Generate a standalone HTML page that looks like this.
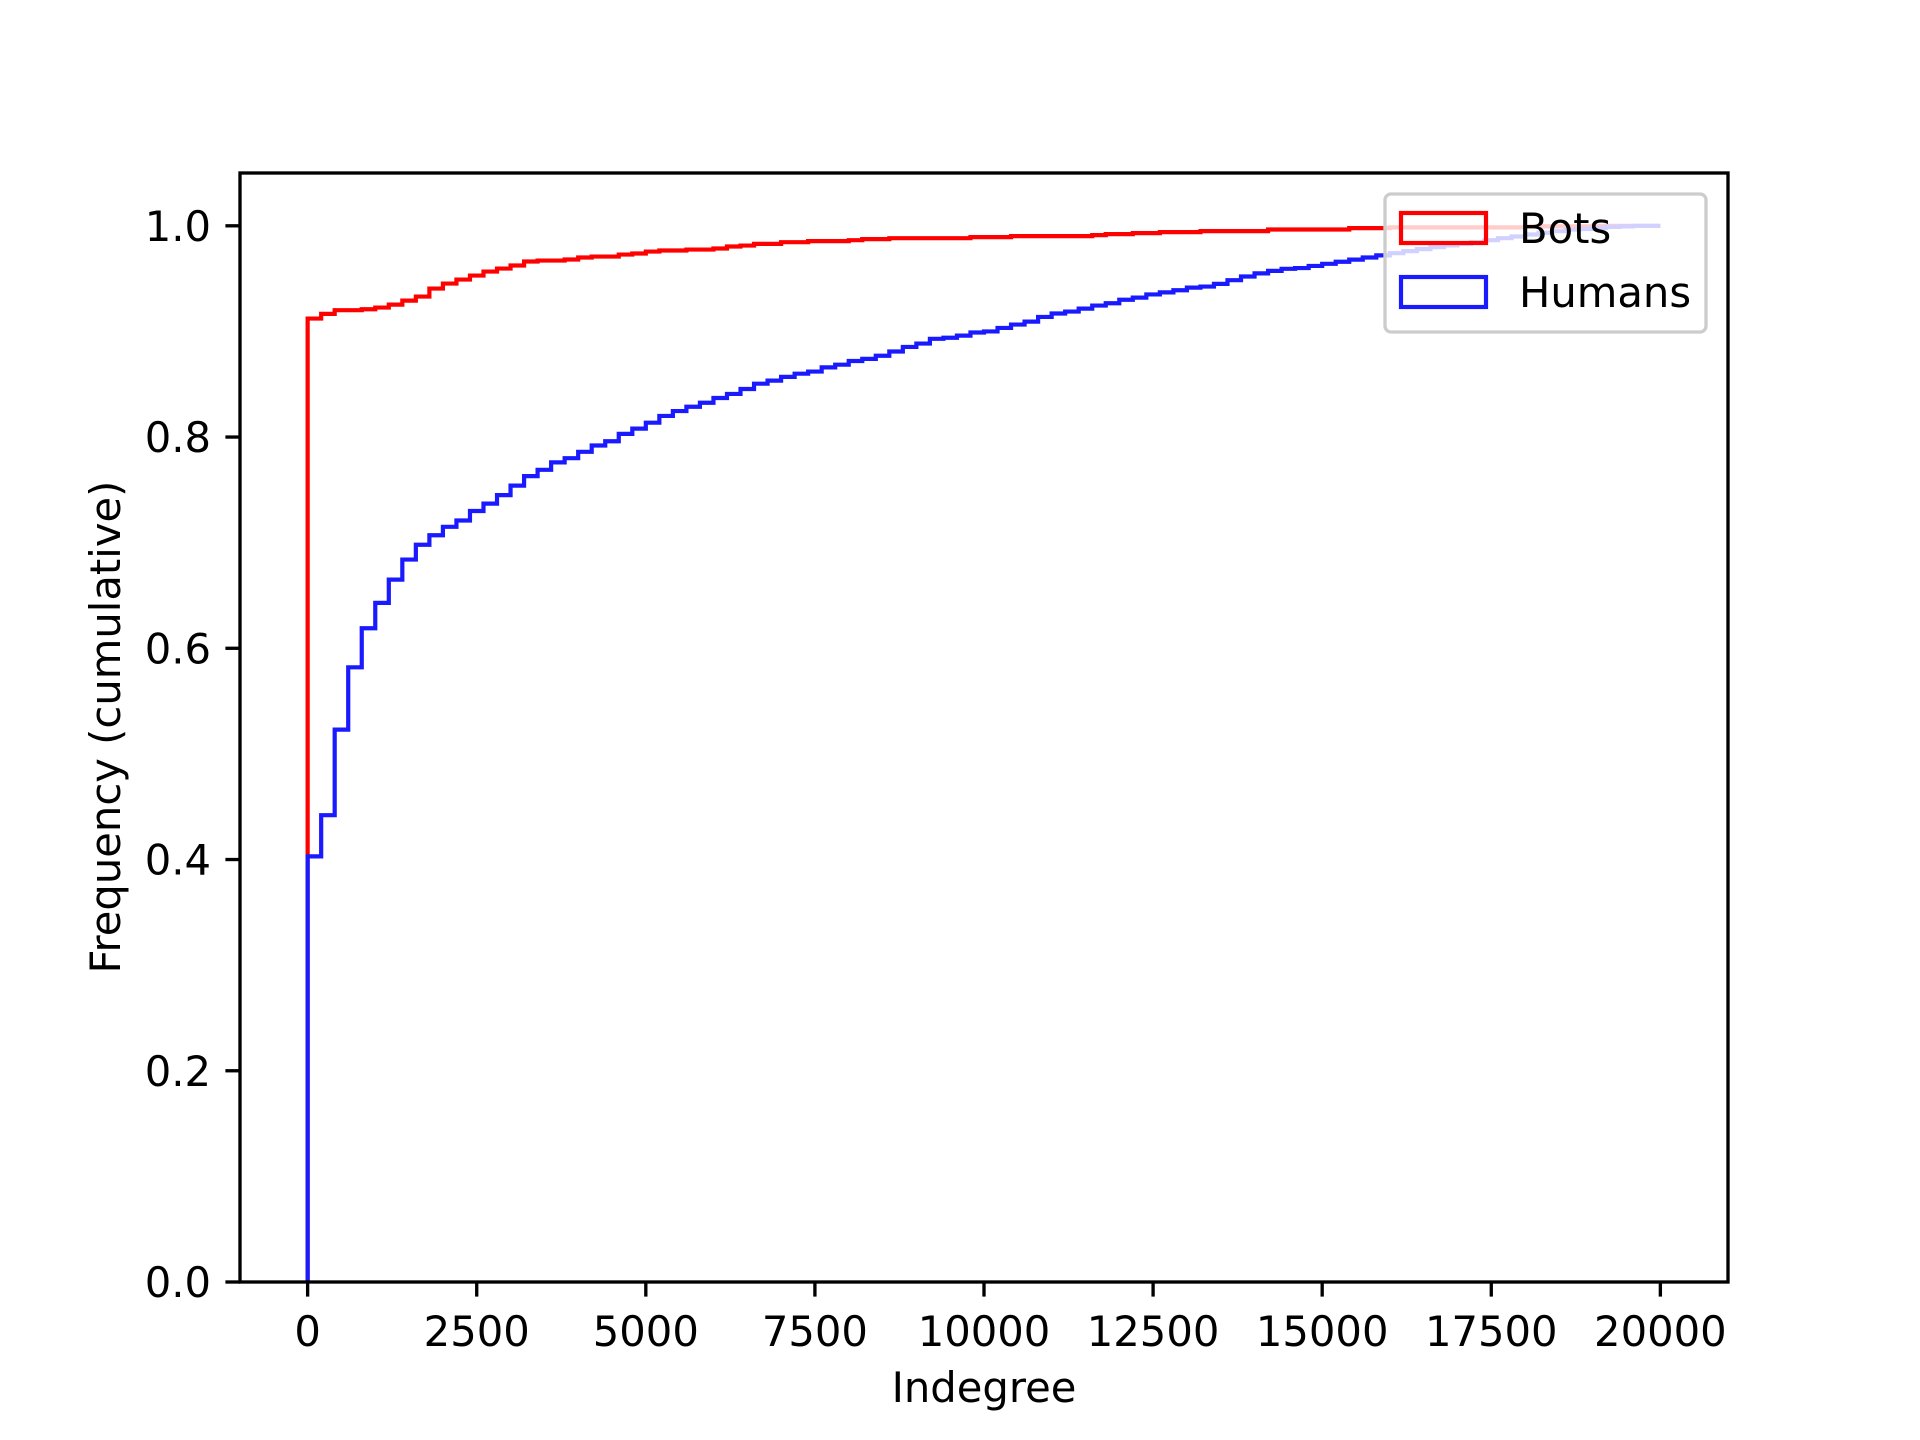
<!DOCTYPE html>
<html><head><meta charset="utf-8"><style>
html,body{margin:0;padding:0;background:#fff;}
svg{display:block;font-family:"DejaVu Sans","Liberation Sans",sans-serif;}
</style></head><body>
<svg id="chart" width="1920" height="1440" viewBox="0 0 1920 1440" xmlns="http://www.w3.org/2000/svg">
<rect x="0" y="0" width="1920" height="1440" fill="#fff"/>
<g id="plot"></g>
<g id="axes"></g>
</svg>
<script>
const binWidth = 200;
const xTicks = [0, 2500, 5000, 7500, 10000, 12500, 15000, 17500, 20000];
const yTicks = [0.0, 0.2, 0.4, 0.6, 0.8, 1.0];
const yTickLabels = ["0.0", "0.2", "0.4", "0.6", "0.8", "1.0"];
const humans = [0.403,0.442,0.523,0.582,0.619,0.643,0.665,0.684,0.698,0.707,
0.715,0.721,0.730,0.737,0.745,0.754,0.763,0.769,0.776,0.780,
0.786,0.792,0.796,0.803,0.808,0.8136,0.820,0.8246,0.8287,0.8325,
0.837,0.8408,0.8455,0.8505,0.8534,0.857,0.860,0.862,0.866,0.8685,
0.872,0.874,0.877,0.881,0.8853,0.8885,0.893,0.894,0.896,0.899,
0.900,0.9033,0.9065,0.9093,0.9137,0.917,0.9188,0.9216,0.9245,0.9267,
0.930,0.932,0.935,0.937,0.939,0.9415,0.9425,0.945,0.9485,0.952,
0.955,0.9573,0.9593,0.960,0.962,0.964,0.966,0.968,0.970,0.972,
0.9741,0.976,0.9779,0.9798,0.9814,0.983,0.9845,0.9864,0.9883,0.9899,
0.9918,0.9934,0.9949,0.9965,0.997,0.998,0.999,0.9995,1.0,1.0];
const bots = [0.9122,0.9166,0.9201,0.9201,0.921,0.9226,0.9254,0.9292,0.933,0.9406,
0.9453,0.9491,0.9529,0.9567,0.9595,0.9624,0.9662,0.9671,0.9671,0.9681,
0.970,0.9709,0.9709,0.9728,0.9738,0.9756,0.9766,0.9766,0.9775,0.9775,
0.9785,0.9804,0.9813,0.9829,0.9829,0.9845,0.9845,0.9855,0.9855,0.9855,
0.9864,0.9874,0.9874,0.9883,0.9883,0.9883,0.9883,0.9883,0.9883,0.9893,
0.9893,0.9893,0.9902,0.9902,0.9902,0.9902,0.9902,0.9902,0.9912,0.9921,
0.9921,0.9931,0.9931,0.994,0.994,0.994,0.995,0.995,0.995,0.995,
0.995,0.9965,0.9965,0.9965,0.9965,0.9965,0.9965,0.9978,0.9978,0.9978,
0.9985,0.9985,0.9985,0.9985,0.9985,0.9985,0.9985,0.9985,0.9985,0.9985,
0.9995,0.9995,0.9995,0.9995,0.9995,1.0,1.0,1.0,1.0,1.0];

const L=240, R=1728, T=173, B=1282;
const xMin=-1000, xMax=21000, yMin=0, yMax=1.05;
const xs = v => L + (v - xMin) / (xMax - xMin) * (R - L);
const ys = v => B - (v - yMin) / (yMax - yMin) * (B - T);
const NS="http://www.w3.org/2000/svg";
const plot=document.getElementById('plot');
const axes=document.getElementById('axes');
function mk(tag, attrs, parent){const e=document.createElementNS(NS,tag);for(const k in attrs)e.setAttribute(k,attrs[k]);parent.appendChild(e);return e;}

function stepPath(vals){
  let d = 'M'+xs(0)+','+ys(0);
  vals.forEach((v,i)=>{
    d += ' L'+xs(i*binWidth)+','+ys(v)+' L'+xs((i+1)*binWidth)+','+ys(v);
  });
  return d;
}
const pb=mk('path',{d:stepPath(bots),fill:'none',stroke:'#ff0000','stroke-width':4.2,'stroke-linejoin':'miter'},plot);


const ph=mk('path',{d:stepPath(humans),fill:'none',stroke:'#1a1aff','stroke-width':4.2,'stroke-linejoin':'miter'},plot);



const fr=mk('rect',{x:L,y:T,width:R-L,height:B-T,fill:'none',stroke:'#000','stroke-width':3.33},axes);



xTicks.forEach(t=>{
  const x=xs(t);
  const tl=mk('line',{x1:x,y1:B,x2:x,y2:B+14.6,stroke:'#000','stroke-width':3.33},axes);
  
  
  const tx=mk('text',{x:x,y:1346,'font-size':41.7,'text-anchor':'middle',fill:'#000'},axes);
  tx.textContent=String(t);
  
  
});
yTicks.forEach((t,i)=>{
  const y=ys(t);
  const tl=mk('line',{x1:L-14.6,y1:y,x2:L,y2:y,stroke:'#000','stroke-width':3.33},axes);
  
  
  const tx=mk('text',{x:L-29,y:y+15,'font-size':41.7,'text-anchor':'end',fill:'#000'},axes);
  tx.textContent=yTickLabels[i];
  
  
});
</script>
<svg style="position:absolute;left:0;top:0" width="1920" height="1440" viewBox="0 0 1920 1440" xmlns="http://www.w3.org/2000/svg" font-family="DejaVu Sans, Liberation Sans, sans-serif">
<text x="984" y="1402" font-size="41.7" text-anchor="middle" fill="#000">Indegree</text>
<text transform="translate(120,727) rotate(-90)" x="0" y="0" font-size="41.7" text-anchor="middle" fill="#000">Frequency (cumulative)</text>
<g>
<rect x="1385" y="194" width="321" height="138" rx="6" fill="#fff" fill-opacity="0.8" stroke="#cccccc" stroke-width="3.33"/>
<rect x="1401" y="213" width="85" height="30" fill="none" stroke="#ff0000" stroke-width="4.2"/>
<text x="1519" y="243" font-size="41.7" fill="#000">Bots</text>
<rect x="1401" y="277" width="85" height="30" fill="none" stroke="#1a1aff" stroke-width="4.2"/>
<text x="1519" y="307" font-size="41.7" fill="#000">Humans</text>
</g>
</svg>
</body></html>
